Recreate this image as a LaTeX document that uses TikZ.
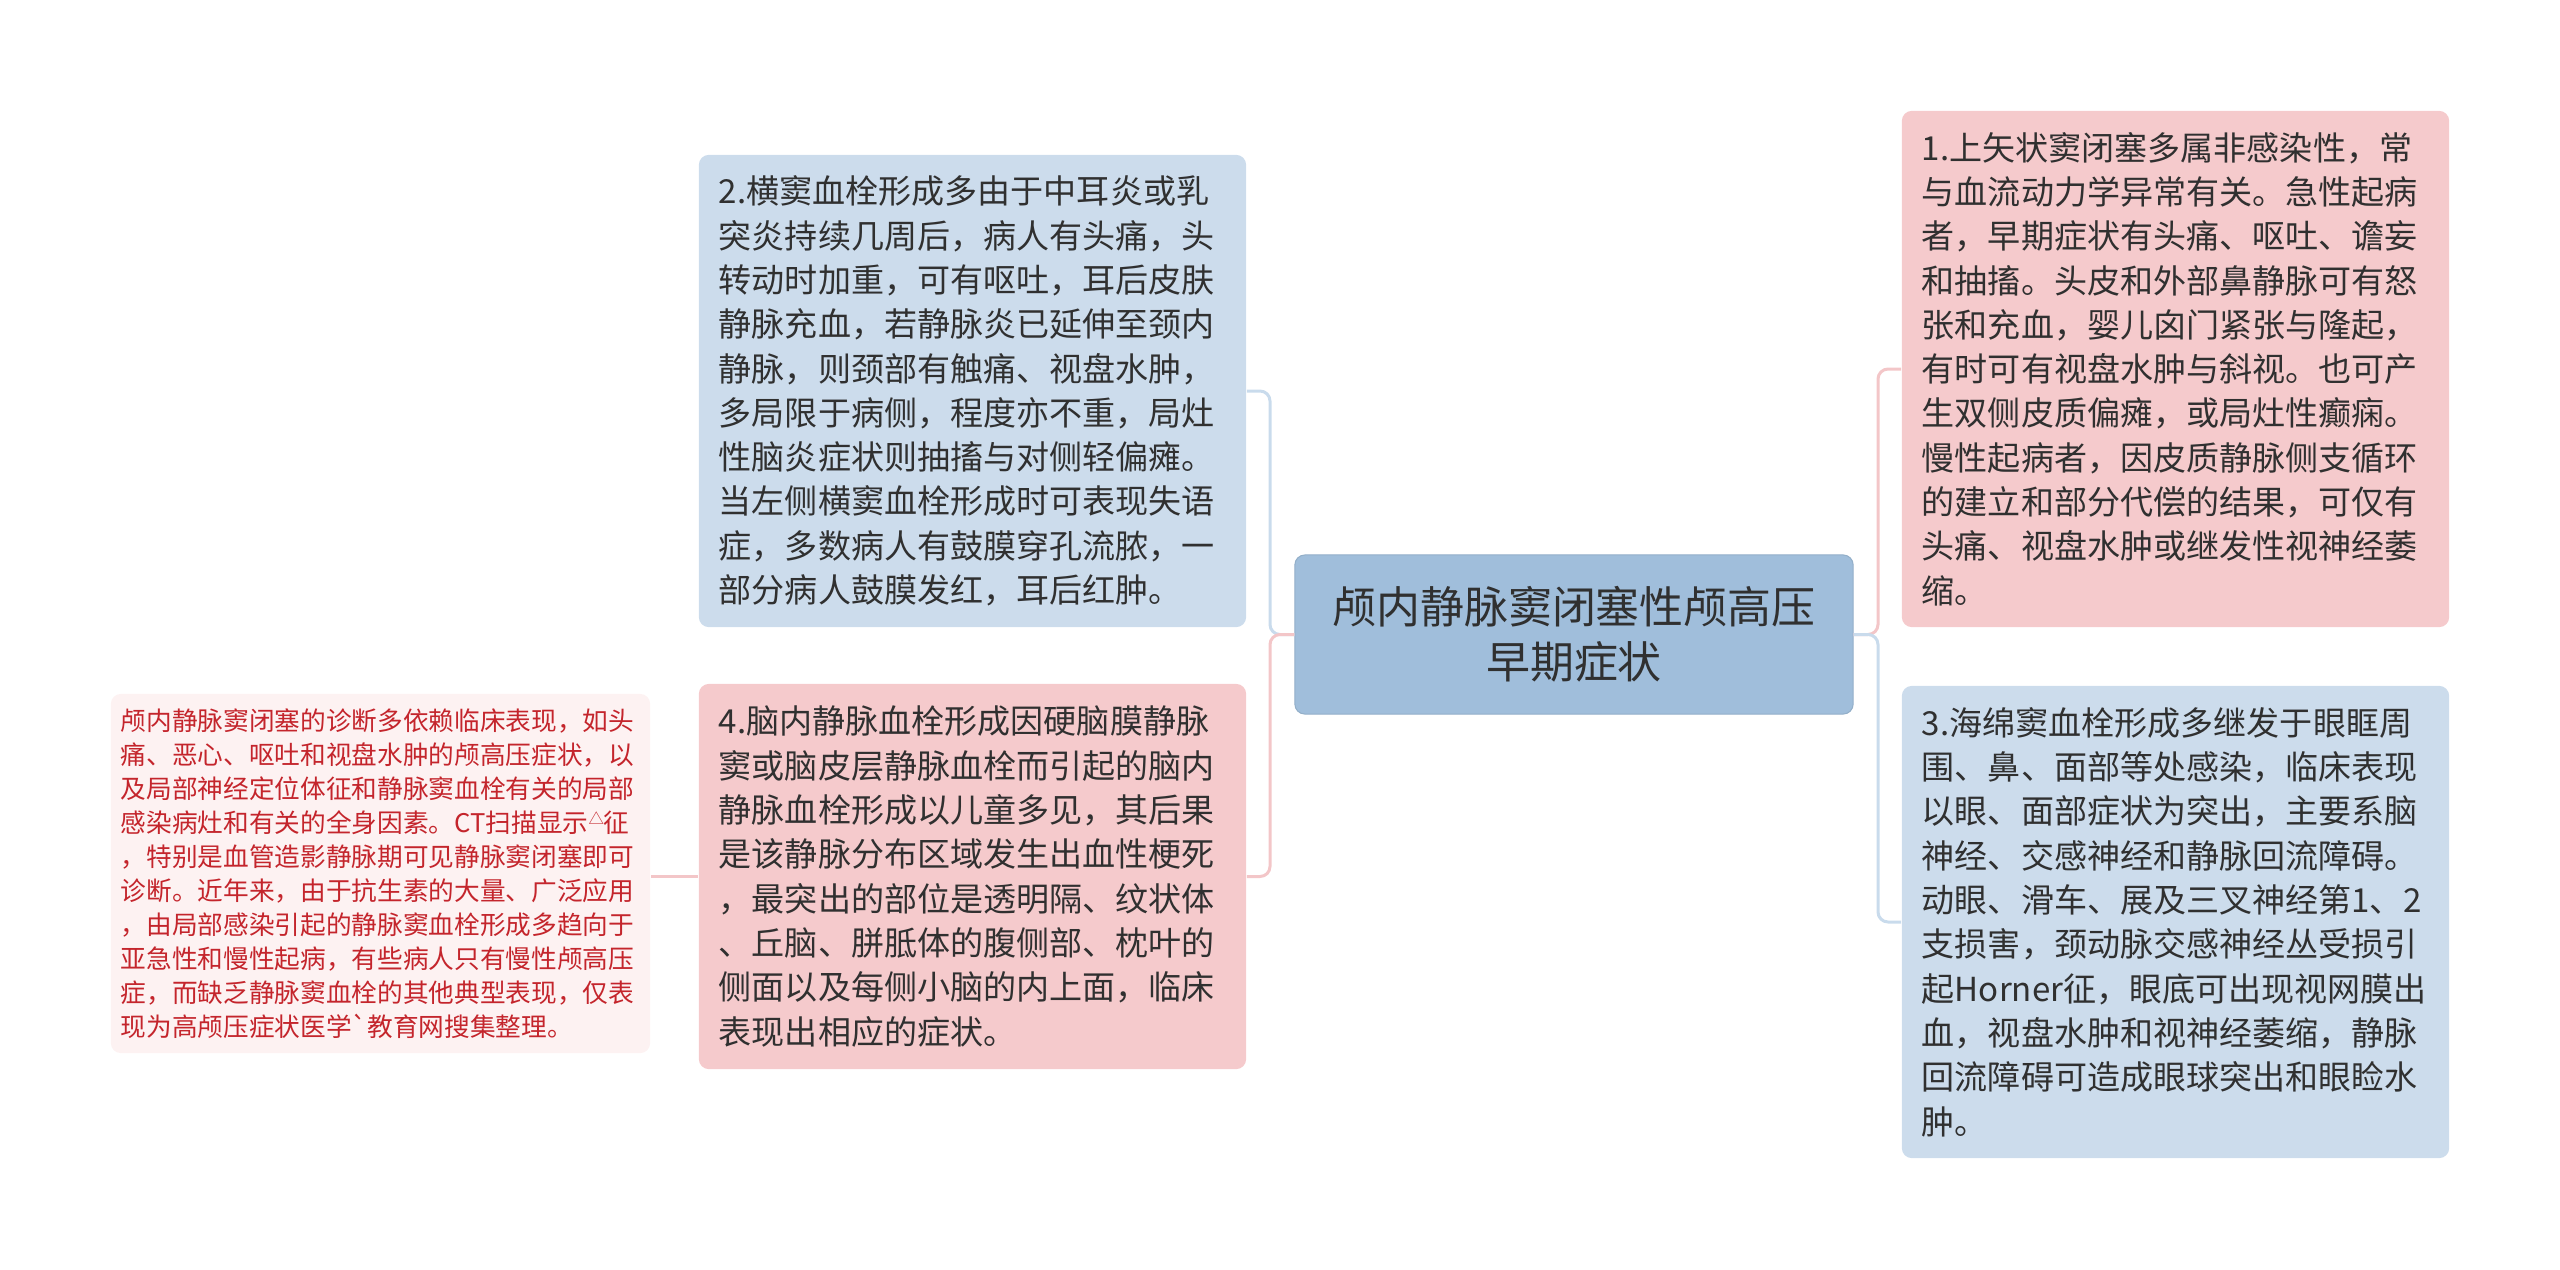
\documentclass[tikz,border=0pt]{standalone}
\usepackage{fontspec}
\setmainfont{Noto Sans CJK SC}
\usepackage{xcolor}

\definecolor{rootblue}{HTML}{A0BEDB}
\definecolor{boxblue}{HTML}{CCDCEC}
\definecolor{boxpink}{HTML}{F5CACC}
\definecolor{notepink}{HTML}{FDF2F2}
\definecolor{linkblue}{HTML}{C9DBEC}
\definecolor{linkpink}{HTML}{F3C6C8}
\definecolor{textdark}{HTML}{303030}
\definecolor{notered}{HTML}{C4252C}

\begin{document}
\begin{tikzpicture}[x=0.01cm, y=-0.01cm,
    root/.style={rectangle, rounded corners=0.1cm, fill=rootblue, draw=rootblue!92!black, line width=0.3pt,
        minimum width=5.58cm, minimum height=1.59cm, inner sep=0pt, align=center, text=textdark,
        font=\fontsize{12.5}{15.6}\selectfont},
    topic/.style={rectangle, rounded corners=0.1cm, inner xsep=0.2cm, inner ysep=0pt, text width=5.07cm,
        align=left, text=textdark, font=\fontsize{9.4}{12.6}\selectfont},
    note/.style={rectangle, rounded corners=0.1cm, fill=notepink, inner xsep=0.1cm, inner ysep=0pt,
        text width=5.19cm, minimum height=3.59cm, align=left, text=notered,
        font=\fontsize{7.3}{9.67}\selectfont},
    link/.style={line width=0.03cm, rounded corners=0.1cm}]
    % 画布大小
    \useasboundingbox (0,0) rectangle (2560,1269);
    \def\tri{\raisebox{0.3em}{\scalebox{0.6}{△}}}

    % 中心主题
    \node[root] (root) at (1574, 634.5) {颅内静脉窦闭塞性颅高压\\早期症状};

    % 左侧分支
    \node[topic, fill=boxblue, minimum height=4.72cm] (n2) at (972.5, 391) {2.横窦血栓形成多由于中耳炎或乳\\
突炎持续几周后，病人有头痛，头\\
转动时加重，可有呕吐，耳后皮肤\\
静脉充血，若静脉炎已延伸至颈内\\
静脉，则颈部有触痛、视盘水肿，\\
多局限于病侧，程度亦不重，局灶\\
性脑炎症状则抽搐与对侧轻偏瘫。\\
当左侧横窦血栓形成时可表现失语\\
症，多数病人有鼓膜穿孔流脓，一\\
部分病人鼓膜发红，耳后红肿。};
    \node[topic, fill=boxpink, minimum height=3.85cm] (n4) at (972.5, 876.5) {4.脑内静脉血栓形成因硬脑膜静脉\\
窦或脑皮层静脉血栓而引起的脑内\\
静脉血栓形成以儿童多见，其后果\\
是该静脉分布区域发生出血性梗死\\
，最突出的部位是透明隔、纹状体\\
、丘脑、胼胝体的腹侧部、枕叶的\\
侧面以及每侧小脑的内上面，临床\\
表现出相应的症状。};

    % 附注
    \node[note] (n0) at (380.5, 873.5) {颅内静脉窦闭塞的诊断多依赖临床表现，如头\\
痛、恶心、呕吐和视盘水肿的颅高压症状，以\\
及局部神经定位体征和静脉窦血栓有关的局部\\
感染病灶和有关的全身因素。CT扫描显示\tri 征\\
，特别是血管造影静脉期可见静脉窦闭塞即可\\
诊断。近年来，由于抗生素的大量、广泛应用\\
，由局部感染引起的静脉窦血栓形成多趋向于\\
亚急性和慢性起病，有些病人只有慢性颅高压\\
症，而缺乏静脉窦血栓的其他典型表现，仅表\\
现为高颅压症状医学\textasciigrave 教育网搜集整理。};

    % 右侧分支
    \node[topic, fill=boxpink, minimum height=5.16cm] (n1) at (2175.5, 369) {1.上矢状窦闭塞多属非感染性，常\\
与血流动力学异常有关。急性起病\\
者，早期症状有头痛、呕吐、谵妄\\
和抽搐。头皮和外部鼻静脉可有怒\\
张和充血，婴儿囟门紧张与隆起，\\
有时可有视盘水肿与斜视。也可产\\
生双侧皮质偏瘫，或局灶性癫痫。\\
慢性起病者，因皮质静脉侧支循环\\
的建立和部分代偿的结果，可仅有\\
头痛、视盘水肿或继发性视神经萎\\
缩。};
    \node[topic, fill=boxblue, minimum height=4.72cm] (n3) at (2175.5, 922) {3.海绵窦血栓形成多继发于眼眶周\\
围、鼻、面部等处感染，临床表现\\
以眼、面部症状为突出，主要系脑\\
神经、交感神经和静脉回流障碍。\\
动眼、滑车、展及三叉神经第1、2\\
支损害，颈动脉交感神经丛受损引\\
起Horner征，眼底可出现视网膜出\\
血，视盘水肿和视神经萎缩，静脉\\
回流障碍可造成眼球突出和眼睑水\\
肿。};

    % 连线
    \coordinate (jl) at (1270, 634.5);
    \coordinate (jr) at (1878, 634.5);
    \draw[link, linkblue] (root.west) -- (jl) |- (n2.east);
    \draw[link, linkpink] (root.west) -- (jl) |- (n4.east);
    \draw[link, linkpink] (n4.west) -- (n0.east |- n4.west);
    \draw[link, linkpink] (root.east) -- (jr) |- (n1.west);
    \draw[link, linkblue] (root.east) -- (jr) |- (n3.west);
\end{tikzpicture}
\end{document}
